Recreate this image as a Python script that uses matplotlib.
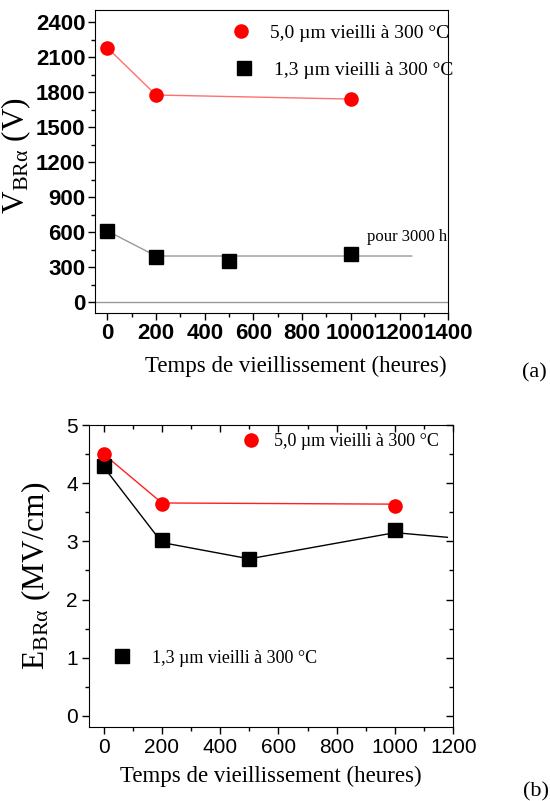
import matplotlib
matplotlib.use("Agg")
import matplotlib.pyplot as plt
from matplotlib.ticker import MultipleLocator

plt.rcParams["mathtext.fontset"] = "stix"

# ---------------- data ----------------
# (a) breakdown voltage vs ageing time
t_50_a = [0, 200, 1000]
v_50_a = [2180, 1775, 1740]
t_13_a = [0, 200, 500, 1000]
v_13_a = [610, 385, 350, 410]
fit_13_x = [0, 200, 1250]
fit_13_y = [610, 395, 395]

# (b) breakdown field vs ageing time
t_50_b = [0, 200, 1000]
e_50_b = [4.5, 3.65, 3.6]
line_50_b = [4.5, 3.66, 3.64]
t_13_b = [0, 200, 500, 1000]
e_13_b = [4.3, 3.03, 2.7, 3.2]
line_13_x = [0, 200, 500, 1000, 1180]
line_13_y = [4.28, 2.98, 2.7, 3.15, 3.07]

lab_50 = "5,0 µm vieilli à 300 °C"
lab_13 = "1,3 µm vieilli à 300 °C"
xlabel = "Temps de vieillissement (heures)"

serif = "Liberation Serif"
sans = "Liberation Sans"

fig = plt.figure(figsize=(5.5, 8.01), dpi=100)

# ------------- panel (a) -------------
ax1 = fig.add_axes([0.173, 0.609, 0.642, 0.378])
ax1.axhline(0, color="#999999", lw=1)
ax1.plot(t_50_a, v_50_a, color="#ff7070", lw=1, zorder=2)
ax1.plot(fit_13_x, fit_13_y, color="#999999", lw=1, zorder=2)
h1, = ax1.plot(t_50_a, v_50_a, "o", color="#ff0000", ms=10.5, mec="none", zorder=3)
h2, = ax1.plot(t_13_a, v_13_a, "s", color="black", ms=9.5, zorder=3)
ax1.text(1066, 557, "pour 3000 h", family=serif, fontsize=12, va="center")

ax1.set_xlim(-50, 1400)
ax1.set_ylim(-95, 2500)
ax1.xaxis.set_major_locator(MultipleLocator(200))
ax1.xaxis.set_minor_locator(MultipleLocator(100))
ax1.yaxis.set_major_locator(MultipleLocator(300))
ax1.yaxis.set_minor_locator(MultipleLocator(150))
ax1.tick_params(which="major", length=5, width=1, pad=2)
ax1.tick_params(which="minor", length=3, width=1)
for lb in ax1.get_xticklabels() + ax1.get_yticklabels():
    lb.set_fontfamily(sans)
    lb.set_fontweight("bold")
    lb.set_fontsize(16)

ax1.set_xlabel(xlabel, family=serif, fontsize=16.5)
ax1.xaxis.set_label_coords(0.567, -0.14)
ax1.set_ylabel("V$_{\\mathregular{BRα}}$ (V)", family=serif, fontsize=22.5)
ax1.yaxis.set_label_coords(-0.175, 0.52)

leg = ax1.legend([h1], [lab_50], loc="center left", bbox_to_anchor=(0.385, 0.924),
                 frameon=False, borderpad=0, borderaxespad=0, handlelength=1,
                 handletextpad=1.0, prop={"family": serif, "size": 14})
ax1.add_artist(leg)
ax1.legend([h2], [lab_13], loc="center left", bbox_to_anchor=(0.393, 0.802),
           frameon=False, borderpad=0, borderaxespad=0, handlelength=1,
           handletextpad=1.05, prop={"family": serif, "size": 14})

fig.text(0.949, 0.534, "(a)", family=serif, fontsize=16, va="center")

# ------------- panel (b) -------------
ax2 = fig.add_axes([0.162, 0.0924, 0.662, 0.377])
ax2.plot(line_13_x, line_13_y, color="black", lw=1, zorder=2)
ax2.plot(t_50_b, line_50_b, color="#ff2020", lw=1, zorder=2)
h3, = ax2.plot(t_13_b, e_13_b, "s", color="black", ms=10, zorder=3)
h4, = ax2.plot(t_50_b, e_50_b, "o", color="#ff0000", ms=10.5, mec="none", zorder=4)

ax2.set_xlim(-50, 1200)
ax2.set_ylim(-0.19, 5)
ax2.xaxis.set_major_locator(MultipleLocator(200))
ax2.xaxis.set_minor_locator(MultipleLocator(100))
ax2.yaxis.set_major_locator(MultipleLocator(1))
ax2.yaxis.set_minor_locator(MultipleLocator(0.5))
ax2.tick_params(which="major", length=5, width=1, pad=3, labelsize=15)
ax2.tick_params(which="minor", length=3, width=1)
ax2.tick_params(which="both", top=True, right=True)
for lb in ax2.get_xticklabels() + ax2.get_yticklabels():
    lb.set_fontfamily(sans)

# mirrored ticks point inward on top/right
for t in ax2.xaxis.get_major_ticks() + ax2.xaxis.get_minor_ticks():
    t.tick2line.set_marker(3)
for t in ax2.yaxis.get_major_ticks() + ax2.yaxis.get_minor_ticks():
    t.tick2line.set_marker(0)

ax2.set_xlabel(xlabel, family=serif, fontsize=16.5)
ax2.xaxis.set_label_coords(0.5, -0.13)
ax2.set_ylabel("E$_{\\mathregular{BRα}}$ (MV/cm)", family=serif, fontsize=22.5)
ax2.yaxis.set_label_coords(-0.10, 0.5)

leg2 = ax2.legend([h4], [lab_50], loc="center left", bbox_to_anchor=(0.42, 0.944),
                  frameon=False, borderpad=0, borderaxespad=0, handlelength=1,
                  handletextpad=0.75, prop={"family": serif, "size": 13})
ax2.add_artist(leg2)
ax2.legend([h3], [lab_13], loc="center left", bbox_to_anchor=(0.065, 0.228),
           frameon=False, borderpad=0, borderaxespad=0, handlelength=1,
           handletextpad=1.2, prop={"family": serif, "size": 13})

fig.text(0.951, 0.011, "(b)", family=serif, fontsize=16, va="center")

fig.savefig("out.png", dpi=100)
